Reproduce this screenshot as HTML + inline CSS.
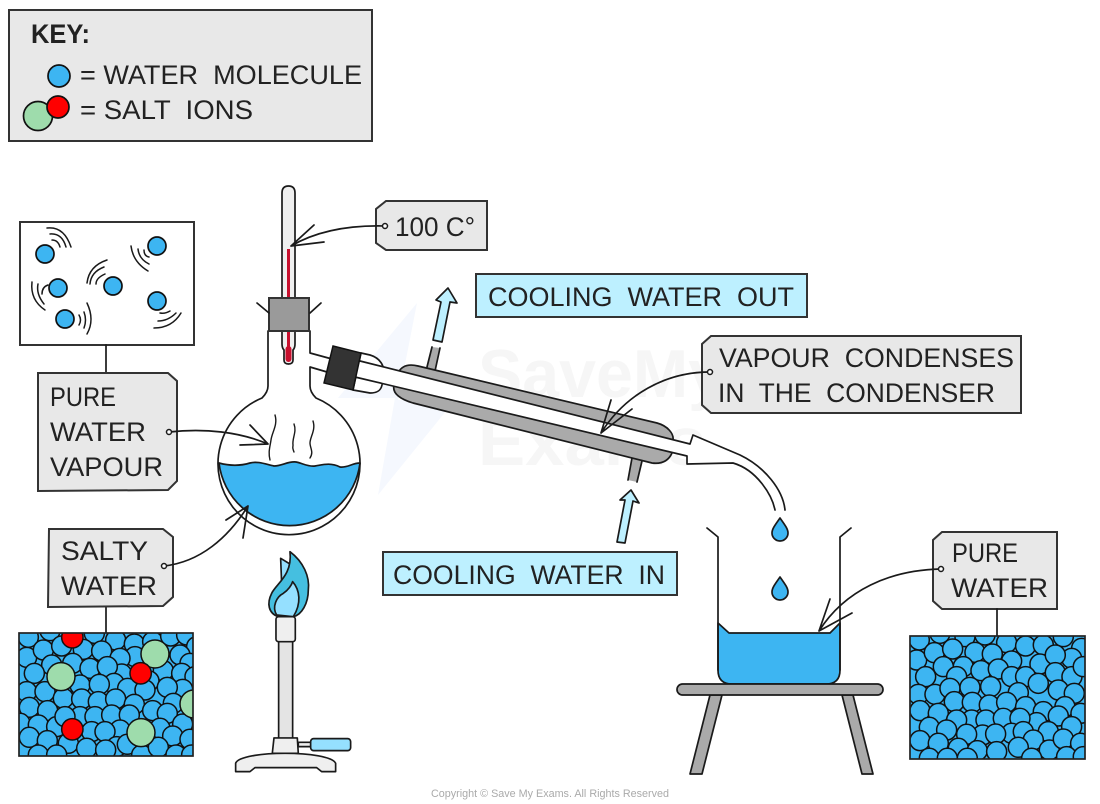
<!DOCTYPE html>
<html><head><meta charset="utf-8"><style>
html,body{margin:0;padding:0;background:#fff}
svg{display:block}
text{font-family:"Liberation Sans",sans-serif;font-size:26.500px;fill:#222}
.b{fill:#e8e8e8;stroke:#333;stroke-width:2}
.c{fill:#bdf0ff;stroke:#333;stroke-width:2}
.l{fill:none;stroke:#1a1a1a;stroke-width:1.7;stroke-linecap:round;stroke-linejoin:round}
.o{stroke:#1a1a1a;stroke-width:1.7;stroke-linejoin:round}
.dot{fill:#fff;stroke:#1a1a1a;stroke-width:1.5}
.mol circle{fill:#3db5f2;stroke:#111;stroke-width:4.5}
</style></head><body>
<svg xmlns="http://www.w3.org/2000/svg" width="1100" height="804" viewBox="0 0 1100 804">
<defs>
<clipPath id="cs"><rect x="19" y="633" width="174" height="123"/></clipPath>
<clipPath id="cp"><rect x="910" y="636" width="175" height="123"/></clipPath>
</defs>
<rect width="1100" height="804" fill="#fff"/>

<!-- watermark -->
<polygon points="417,303 338,398 395,398 378,495 455,400 398,400" fill="#f5f8fe"/>
<text x="478" y="397" textLength="247" lengthAdjust="spacingAndGlyphs" style="font-size:68px;font-weight:bold;fill:#f6f6f6">SaveMy</text>
<text x="478" y="465" textLength="228" lengthAdjust="spacingAndGlyphs" style="font-size:68px;font-weight:bold;fill:#f6f6f6">Exams</text>

<!-- key -->
<rect class="b" x="9" y="10" width="363" height="131"/>
<text x="31" y="43" textLength="59" lengthAdjust="spacingAndGlyphs" style="font-weight:bold">KEY:</text>
<circle cx="59" cy="76" r="11" fill="#3db5f2" stroke="#111" stroke-width="1.7"/>
<circle cx="38" cy="116" r="14.500" fill="#9edcac" stroke="#111" stroke-width="1.7"/>
<circle cx="58" cy="107" r="11" fill="#f00" stroke="#111" stroke-width="1.7"/>
<text x="80" y="84" textLength="282" lengthAdjust="spacingAndGlyphs" xml:space="preserve">= WATER  MOLECULE</text>
<text x="80" y="119" textLength="173" lengthAdjust="spacingAndGlyphs" xml:space="preserve">= SALT  IONS</text>

<!-- vapour box -->
<rect x="20" y="222" width="174" height="123" fill="#fff" stroke="#333" stroke-width="2"/>
<g fill="#3db5f2" stroke="#111" stroke-width="1.7">
<circle cx="45" cy="254" r="9"/><circle cx="157" cy="246" r="9"/><circle cx="58" cy="288" r="9"/>
<circle cx="113" cy="286" r="9"/><circle cx="157" cy="301" r="9"/><circle cx="65" cy="319" r="9"/>
</g>
<g class="l" style="stroke-width:1.5">
<path d="M52,240Q58,240 60,247M50,234Q62,233 66,247M47,228Q64,226 71,247"/>
<path d="M144,250Q144,256 149,257M138,249Q139,259 149,264M131,246Q133,262 148,271"/>
<path d="M96,284Q96,278 105,274M90,284Q91,272 104,267M87,283Q89,266 107,260"/>
<path d="M48,285Q42,287 42,294M38,284Q36,294 44,304M32,282Q30,300 45,310"/>
<path d="M79,315Q82,320 79,325M84,312Q87,320 84,328M87,303Q95,320 87,334"/>
<path d="M160,313Q165,314 170,311M158,321Q168,321 176,313M154,328Q172,328 181,313"/>
</g>
<line class="l" x1="106" y1="345" x2="106" y2="373"/>

<!-- pure water vapour tag -->
<polygon class="b" points="38,373 168,373 177,381 177,481 168,490 38,491"/>
<text x="50" y="406" textLength="66" lengthAdjust="spacingAndGlyphs">PURE</text>
<text x="50" y="441" textLength="96" lengthAdjust="spacingAndGlyphs">WATER</text>
<text x="50" y="476" textLength="113" lengthAdjust="spacingAndGlyphs">VAPOUR</text>

<!-- salty tag -->
<line class="l" x1="106" y1="607" x2="106" y2="633"/>
<polygon class="b" points="49,529 163,529 173,537 173,597 163,606 48,607"/>
<text x="61" y="560" textLength="87" lengthAdjust="spacingAndGlyphs">SALTY</text>
<text x="61" y="595" textLength="96" lengthAdjust="spacingAndGlyphs">WATER</text>

<!-- salty box -->
<rect x="19" y="633" width="174" height="123" fill="#3db5f2"/>
<g clip-path="url(#cs)"><g class="mol" transform="translate(0,500) scale(0.3333)">
<circle cx="85" cy="412" r="30"/><circle cx="150" cy="392" r="30"/><circle cx="283" cy="400" r="30"/><circle cx="347" cy="420" r="30"/><circle cx="403" cy="432" r="30"/><circle cx="458" cy="425" r="30"/><circle cx="512" cy="408" r="30"/><circle cx="560" cy="405" r="30"/><circle cx="590" cy="440" r="30"/>
<circle cx="80" cy="472" r="30"/><circle cx="130" cy="450" r="30"/><circle cx="185" cy="438" r="30"/><circle cx="250" cy="448" r="30"/><circle cx="305" cy="453" r="30"/><circle cx="405" cy="470" r="30"/><circle cx="360" cy="475" r="30"/><circle cx="540" cy="465" r="30"/>
<circle cx="155" cy="495" r="30"/><circle cx="218" cy="490" r="30"/><circle cx="270" cy="505" r="30"/><circle cx="365" cy="522" r="30"/><circle cx="322" cy="500" r="30"/><circle cx="490" cy="512" r="30"/><circle cx="570" cy="490" r="30"/><circle cx="103" cy="520" r="30"/><circle cx="545" cy="520" r="30"/><circle cx="585" cy="530" r="30"/>
<circle cx="80" cy="575" r="30"/><circle cx="135" cy="575" r="30"/><circle cx="240" cy="555" r="30"/><circle cx="342" cy="550" r="30"/><circle cx="383" cy="565" r="30"/><circle cx="298" cy="553" r="30"/><circle cx="447" cy="543" r="30"/><circle cx="435" cy="570" r="30"/><circle cx="548" cy="568" r="30"/><circle cx="502" cy="562" r="30"/>
<circle cx="88" cy="622" r="30"/><circle cx="143" cy="632" r="30"/><circle cx="190" cy="595" r="30"/><circle cx="245" cy="597" r="30"/><circle cx="295" cy="605" r="30"/><circle cx="347" cy="597" r="30"/><circle cx="403" cy="613" r="30"/><circle cx="520" cy="610" r="30"/><circle cx="458" cy="632" r="30"/><circle cx="502" cy="640" r="30"/>
<circle cx="60" cy="670" r="30"/><circle cx="115" cy="675" r="30"/><circle cx="170" cy="680" r="30"/><circle cx="240" cy="650" r="30"/><circle cx="195" cy="650" r="30"/><circle cx="285" cy="650" r="30"/><circle cx="335" cy="645" r="30"/><circle cx="388" cy="645" r="30"/><circle cx="548" cy="672" r="30"/><circle cx="480" cy="685" r="30"/>
<circle cx="88" cy="712" r="30"/><circle cx="142" cy="722" r="30"/><circle cx="205" cy="730" r="30"/><circle cx="275" cy="695" r="30"/><circle cx="360" cy="690" r="30"/><circle cx="315" cy="695" r="30"/><circle cx="518" cy="708" r="30"/><circle cx="570" cy="718" r="30"/>
<circle cx="115" cy="765" r="30"/><circle cx="170" cy="765" r="30"/><circle cx="260" cy="745" r="30"/><circle cx="350" cy="740" r="30"/><circle cx="317" cy="750" r="30"/><circle cx="382" cy="733" r="30"/><circle cx="425" cy="765" r="30"/><circle cx="475" cy="742" r="30"/><circle cx="528" cy="765" r="30"/><circle cx="575" cy="765" r="30"/>
<g style="stroke:#111;stroke-width:3">
<circle cx="183" cy="530" r="42" style="fill:#9edcac"/><circle cx="465" cy="462" r="42" style="fill:#9edcac"/><circle cx="423" cy="698" r="42" style="fill:#9edcac"/><circle cx="582" cy="612" r="42" style="fill:#9edcac"/>
<circle cx="217" cy="412" r="32" style="fill:#f00"/><circle cx="422" cy="520" r="32" style="fill:#f00"/><circle cx="217" cy="688" r="32" style="fill:#f00"/>
</g></g></g>
<rect x="19" y="633" width="174" height="123" fill="none" stroke="#222" stroke-width="1.7"/>

<!-- flask -->
<path d="M268,331V386Q268,392 262,398A71,71 0 1 0 316,398Q310,392 310,386V367L327,372L332,359L310,353V331Z" fill="#fff" stroke="none"/>
<path d="M219,463C230,466 240,466 250,463C258,461 265,464 274,466C282,466 288,461 296,462C302,463 308,467 315,466C322,465 330,462 340,467C348,468 352,463 360,463A71,71 0 0 1 219,463Z" fill="#3db5f2" class="o"/>
<path class="l" d="M268,331V386Q268,392 262,398A71,71 0 1 0 316,398Q310,392 310,386V367L327,372M310,331V353L332,359"/>
<path class="l" style="stroke-width:1.4" d="M275,415C278,425 272,432 271,440C270,447 268,452 270,460M294,424C297,432 292,438 293,445C293,448 292,447 294,452M313,421C316,430 310,437 310,443C310,448 314,452 310,458"/>

<!-- thermometer -->
<path d="M282,193Q282,186 288.500,186Q295,186 295,193V344Q295,348 293,350V360Q293,364 288.500,364Q284,364 284,360V350Q282,348 282,344Z" fill="#efefef" class="o"/>
<line x1="288.500" y1="249" x2="288.500" y2="350" stroke="#c8102e" stroke-width="3"/>
<path d="M288.500,349V359" stroke="#c8102e" stroke-width="6" stroke-linecap="round"/>
<rect x="269" y="298" width="40" height="33" fill="#9a9a9a" stroke="#333" stroke-width="2"/>
<path class="l" d="M257,303L269,313M321,303L310,313"/>

<!-- condenser -->
<path d="M361,353L370,355C380,358 383,365 384,370L382,385C381,390 378,393 370,393L353,390Z" fill="#fff" class="o"/>
<path d="M432,347L440,348L435,372L427,369Z" fill="#aaa" stroke="none"/>
<path class="l" d="M432,347L427,367M440,348L435,371"/>
<path d="M632,458L642,461L637,482L628,480Z" fill="#aaa" stroke="none"/>
<path class="l" d="M632,458L628,480M642,461L637,482"/>
<path d="M398,373C402,365 410,364 418,366L657,423C668,426 674,434 673,440L672,453C668,462 660,464 652,463L413,403C400,399 392,393 394,385Z" fill="#aaa" class="o"/>
<path d="M360,361L690,444L693,435L740,455C765,467 783,490 785,510L775,510C772,495 757,470 733,463L687,464L687,456L355,377Z" fill="#fff" stroke="none"/>
<path class="l" d="M360,361L690,444L693,435L740,455C765,467 783,490 785,510M775,510C772,495 757,470 733,463L687,464L687,456L355,377"/>
<polygon points="333,346 361,353 353,390 324,383" fill="#333" stroke="#111" stroke-width="1.500"/>

<!-- arrows -->
<path d="M433,340L441,302L436,300L448,288L457,303L450,302L442,342Z" fill="#bdf0ff" class="o"/>
<path d="M617,542L625,500L620,500L631,490L639,503L633,501L625,543Z" fill="#bdf0ff" class="o"/>

<!-- boxes -->
<rect class="c" x="476" y="274" width="331" height="43"/>
<text x="488" y="306" textLength="306" lengthAdjust="spacingAndGlyphs" xml:space="preserve">COOLING  WATER  OUT</text>
<rect class="c" x="383" y="552" width="294" height="43"/>
<text x="393" y="584" textLength="272" lengthAdjust="spacingAndGlyphs" xml:space="preserve">COOLING  WATER  IN</text>

<polygon class="b" points="386,201 487,201 487,250 386,250 376,243 376,209"/>
<text x="395" y="236" textLength="80" lengthAdjust="spacingAndGlyphs">100 C°</text>

<polygon class="b" points="711,336 1021,336 1021,413 711,413 702,405 702,344"/>
<text x="719" y="367" textLength="295" lengthAdjust="spacingAndGlyphs" xml:space="preserve">VAPOUR  CONDENSES</text>
<text x="718" y="402" textLength="277" lengthAdjust="spacingAndGlyphs" xml:space="preserve">IN  THE  CONDENSER</text>

<polygon class="b" points="942,532 1057,532 1057,609 942,609 933,601 933,540"/>
<text x="952" y="562" textLength="66" lengthAdjust="spacingAndGlyphs">PURE</text>
<text x="951" y="597" textLength="97" lengthAdjust="spacingAndGlyphs">WATER</text>

<!-- callouts -->
<path class="l" d="M385,226C345,225 315,232 291,246L314,225M291,246L324,242"/>
<circle class="dot" cx="385" cy="226" r="2.500"/>
<path class="l" d="M169,432C205,428 240,432 268,444L250,425M268,444L240,445"/>
<circle class="dot" cx="169" cy="432" r="2.500"/>
<path class="l" d="M164,566C200,562 228,538 248,506L226,520M248,506L243,538"/>
<circle class="dot" cx="164" cy="566" r="2.500"/>
<path class="l" d="M710,372C665,372 625,395 601,433L611,400M601,433L632,409"/>
<circle class="dot" cx="710" cy="372" r="2.500"/>
<path class="l" d="M941,569C890,570 845,590 819,631L830,599M819,631L852,613"/>
<circle class="dot" cx="941" cy="569" r="2.500"/>

<!-- burner -->
<g transform="translate(0,500) scale(0.3333)" stroke="#1a1a1a" stroke-width="5" stroke-linejoin="round">
<path d="M842,175L870,192L860,240L845,250Z" fill="#95e0ff"/>
<path d="M835,350C805,340 800,310 815,280C830,250 878,225 870,155C910,185 930,230 925,270C925,310 905,345 880,350Z" fill="#45bfe0"/>
<path d="M830,345C815,320 830,290 850,280C865,270 875,255 878,245C900,270 905,310 880,350Z" fill="#95e0ff"/>
<rect x="836" y="425" width="42" height="292" fill="#e4e4e4"/>
<rect x="828" y="350" width="58" height="75" rx="8" fill="#efefef"/>
<path d="M895,727H935V740H895Z" fill="#efefef"/>
<rect x="932" y="716" width="120" height="36" rx="9" fill="#95e0ff"/>
<path d="M822,714H892L895,760H817Z" fill="#efefef"/>
<path d="M707,790C720,750 990,750 1007,790V815H965L950,803H765L750,815H707Z" fill="#efefef"/>
</g>

<!-- drops -->
<path d="M780,518C785,525 788,529 788,533A8,8 0 0 1 772,533C772,529 775,525 780,518Z" fill="#3db5f2" class="o"/>
<path d="M780,577C785,584 788,588 788,592A8,8 0 0 1 772,592C772,588 775,584 780,577Z" fill="#3db5f2" class="o"/>

<!-- beaker & stand -->
<path d="M718,623L729,633H830L840,623V670Q840,684 826,684H732Q718,684 718,670Z" fill="#3db5f2" class="o"/>
<path class="l" d="M707,528L718,537V670M851,528L840,537V670"/>
<path d="M710,695H722L702,774H690ZM842,695H853L873,774H862Z" fill="#aaa" class="o"/>
<rect x="677" y="684" width="206" height="11" rx="5.500" fill="#aaa" class="o"/>

<!-- pure water box -->
<line class="l" x1="997" y1="609" x2="997" y2="636"/>
<rect x="910" y="636" width="175" height="123" fill="#3db5f2"/>
<g clip-path="url(#cp)"><g class="mol" transform="translate(660,500) scale(0.3333)">
<circle cx="778" cy="420" r="30"/><circle cx="840" cy="400" r="30"/><circle cx="915" cy="410" r="30"/><circle cx="975" cy="405" r="30"/><circle cx="1040" cy="428" r="30"/><circle cx="1097" cy="438" r="30"/><circle cx="1150" cy="435" r="30"/><circle cx="1210" cy="410" r="30"/><circle cx="1265" cy="445" r="30"/>
<circle cx="770" cy="480" r="30"/><circle cx="823" cy="458" r="30"/><circle cx="878" cy="447" r="30"/><circle cx="945" cy="457" r="30"/><circle cx="997" cy="462" r="30"/><circle cx="1140" cy="492" r="30"/><circle cx="1055" cy="483" r="30"/><circle cx="1235" cy="475" r="30"/><circle cx="1186" cy="465" r="30"/>
<circle cx="910" cy="500" r="30"/><circle cx="850" cy="500" r="30"/><circle cx="963" cy="512" r="30"/><circle cx="1015" cy="507" r="30"/><circle cx="797" cy="530" r="30"/><circle cx="890" cy="530" r="30"/><circle cx="1055" cy="530" r="30"/><circle cx="1097" cy="530" r="30"/><circle cx="1186" cy="518" r="30"/><circle cx="1236" cy="530" r="30"/><circle cx="1270" cy="500" r="30"/>
<circle cx="775" cy="583" r="30"/><circle cx="825" cy="583" r="30"/><circle cx="870" cy="565" r="30"/><circle cx="930" cy="562" r="30"/><circle cx="992" cy="560" r="30"/><circle cx="1075" cy="578" r="30"/><circle cx="1135" cy="550" r="30"/><circle cx="1195" cy="570" r="30"/><circle cx="1243" cy="580" r="30"/>
<circle cx="883" cy="605" r="30"/><circle cx="937" cy="607" r="30"/><circle cx="988" cy="615" r="30"/><circle cx="1040" cy="607" r="30"/><circle cx="1097" cy="620" r="30"/><circle cx="1150" cy="635" r="30"/><circle cx="1215" cy="620" r="30"/><circle cx="1263" cy="640" r="30"/><circle cx="780" cy="632" r="30"/><circle cx="835" cy="640" r="30"/>
<circle cx="935" cy="660" r="30"/><circle cx="890" cy="660" r="30"/><circle cx="978" cy="660" r="30"/><circle cx="1030" cy="655" r="30"/><circle cx="1130" cy="668" r="30"/><circle cx="1080" cy="655" r="30"/><circle cx="1195" cy="648" r="30"/>
<circle cx="808" cy="682" r="30"/><circle cx="860" cy="690" r="30"/><circle cx="968" cy="705" r="30"/><circle cx="920" cy="703" r="30"/><circle cx="1055" cy="700" r="30"/><circle cx="1090" cy="695" r="30"/><circle cx="1007" cy="702" r="30"/><circle cx="1165" cy="695" r="30"/><circle cx="1235" cy="680" r="30"/>
<circle cx="780" cy="722" r="30"/><circle cx="835" cy="730" r="30"/><circle cx="895" cy="745" r="30"/><circle cx="952" cy="752" r="30"/><circle cx="1010" cy="755" r="30"/><circle cx="1120" cy="720" r="30"/><circle cx="1075" cy="742" r="30"/><circle cx="1168" cy="750" r="30"/><circle cx="1210" cy="717" r="30"/><circle cx="1262" cy="730" r="30"/>
<circle cx="808" cy="775" r="30"/><circle cx="862" cy="775" r="30"/><circle cx="922" cy="775" r="30"/><circle cx="1115" cy="775" r="30"/><circle cx="1220" cy="770" r="30"/><circle cx="1270" cy="770" r="30"/>
</g></g>
<rect x="910" y="636" width="175" height="123" fill="none" stroke="#222" stroke-width="1.7"/>

<text x="431" y="797" textLength="238" lengthAdjust="spacingAndGlyphs" style="font-size:11px;fill:#aaa">Copyright © Save My Exams. All Rights Reserved</text>
</svg>
</body></html>
